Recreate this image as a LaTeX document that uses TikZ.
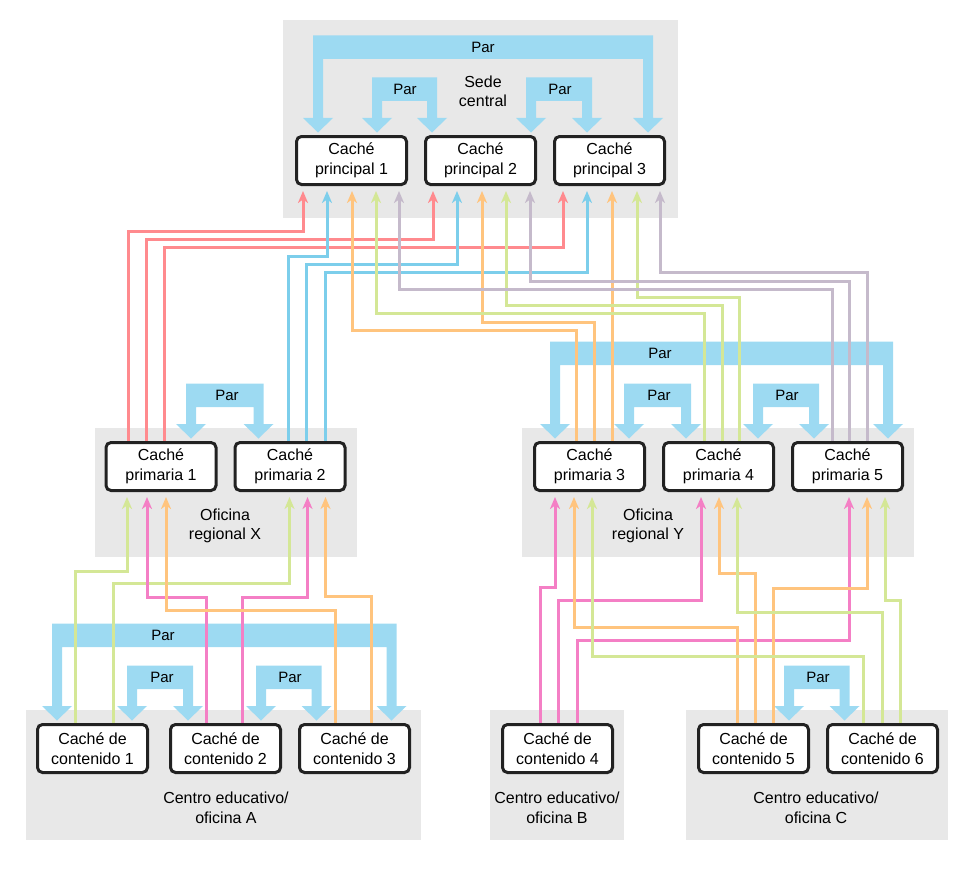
\documentclass[tikz,border=0pt]{standalone}
\usepackage{fontspec}
\setmainfont{Liberation Sans}
\usepackage{xcolor}
\usepackage{tikz}
\usetikzlibrary{calc,backgrounds,positioning,arrows.meta}
\definecolor{Zone}{RGB}{232,232,232}
\definecolor{PeerBlue}{RGB}{157,218,242}
\definecolor{BoxLine}{RGB}{34,34,34}
\definecolor{LinkRed}{RGB}{255,138,142}
\definecolor{LinkBlue}{RGB}{124,206,235}
\definecolor{LinkOrange}{RGB}{255,196,126}
\definecolor{LinkGreen}{RGB}{212,231,150}
\definecolor{LinkPurple}{RGB}{197,186,203}
\definecolor{LinkPink}{RGB}{244,127,197}

%% peer arrow: name, node A, x offset A, node B, x offset B, band height, label offset
\newcommand{\peer}[7]{%
  \fill[peer] let \p1=([xshift=#3pt,yshift=2.5pt]#2.north),
                  \p2=([xshift=#5pt,yshift=2.5pt]#4.north) in
    (\x1-5pt,\y1+#6pt) -- (\x2+5pt,\y1+#6pt) -- (\x2+5pt,\y2+14.5pt) -- (\x2+15pt,\y2+14.5pt)
    -- (\p2) -- (\x2-15pt,\y2+14.5pt) -- (\x2-5pt,\y2+14.5pt) -- (\x2-5pt,\y1+#6pt-23.5pt)
    -- (\x1+5pt,\y1+#6pt-23.5pt) -- (\x1+5pt,\y1+14.5pt) -- (\x1+15pt,\y1+14.5pt) -- (\p1)
    -- (\x1-15pt,\y1+14.5pt) -- (\x1-5pt,\y1+14.5pt) -- cycle
    (\x1+#7pt,\y1+#6pt-11.75pt) node[peerlabel] (#1) {Par};}
%% link: colour, source, x offset, level, target, x offset
\newcommand{\link}[6]{%
  \draw[link,#1] let \p1=([xshift=#3pt]#2.north), \p2=([xshift=#6pt,yshift=-5pt]#5.south) in
    (\p1) -- (\x1,-#4pt) -- (\x2,-#4pt) -- (\p2);}

\begin{document}
\begin{tikzpicture}[x=1pt, y=1pt, text=black,
    every node/.style={font=\fontsize{16pt}{19.5pt}\selectfont},
    cache/.style={rectangle, rounded corners=5pt, draw=BoxLine, line width=3pt, fill=white,
                  minimum width=110pt, minimum height=48pt, inner sep=0pt, align=center},
    zone/.style={fill=Zone},
    zonelabel/.style={align=center},
    peer/.style={fill=PeerBlue},
    peerlabel/.style={font=\fontsize{15pt}{18pt}\selectfont},
    link/.style={line width=3pt, -{Stealth[length=12pt,width=10pt,inset=3.5pt]}}]
  \useasboundingbox (0,0) rectangle (971,-872);

  %% Principal caches
  \node [cache] (princ1) at (351.5,-160.5) {Caché\\principal 1};
  \node [cache,right=16pt of princ1] (princ2) {Caché\\principal 2};
  \node [cache,right=16pt of princ2] (princ3) {Caché\\principal 3};

  %% Primaria caches
  \node [cache] (prim1) at (161,-466.5) {Caché\\primaria 1};
  \node [cache,right=16pt of prim1] (prim2) {Caché\\primaria 2};
  \node [cache] (prim3) at (589.5,-466.5) {Caché\\primaria 3};
  \node [cache,right=16pt of prim3] (prim4) {Caché\\primaria 4};
  \node [cache,right=16pt of prim4] (prim5) {Caché\\primaria 5};

  %% Contenido caches
  \node [cache] (cont1) at (92.5,-748.5) {Caché de\\contenido 1};
  \node [cache,right=20pt of cont1] (cont2) {Caché de\\contenido 2};
  \node [cache,right=16pt of cont2] (cont3) {Caché de\\contenido 3};
  \node [cache] (cont4) at (557.5,-748.5) {Caché de\\contenido 4};
  \node [cache] (cont5) at (753.5,-748.5) {Caché de\\contenido 5};
  \node [cache,right=16pt of cont5] (cont6) {Caché de\\contenido 6};

  %% Site labels
  \node [zonelabel] (hqlabel) at (483,-91.5) {Sede\\central};
  \node [zonelabel] (xlabel) at (225,-526) {Oficina\\regional X};
  \node [zonelabel] (ylabel) at (648,-526) {Oficina\\regional Y};
  \node [zonelabel] (alabel) at (226,-808) {Centro educativo/\\oficina A};
  \node [zonelabel] (blabel) at (557,-808) {Centro educativo/\\oficina B};
  \node [zonelabel] (clabel) at (816,-808) {Centro educativo/\\oficina C};

  \begin{scope}[on background layer]
    %% Sites
    \fill [zone] (283,-20) rectangle (678,-218);
    \fill [zone] (95,-428) rectangle (357,-557);
    \fill [zone] (522,-428) rectangle (914,-557);
    \fill [zone] (26,-710) rectangle (421,-840);
    \fill [zone] (490,-710) rectangle (624,-840);
    \fill [zone] (686,-710) rectangle (948,-840);

    %% Peers
    \peer{hqpar}{princ1}{-33.5}{princ3}{38.5}{97}{165}
    \peer{hqpar12}{princ1}{25.5}{princ2}{-48.5}{55}{28}
    \peer{hqpar23}{princ2}{50.5}{princ3}{-22.5}{55}{29}
    \peer{xpar}{prim1}{30}{prim2}{-31.5}{55}{36}
    \peer{ypar}{prim3}{-34.5}{prim5}{40.5}{97}{105}
    \peer{ypar34}{prim3}{39.5}{prim4}{-32.5}{55}{30}
    \peer{ypar45}{prim4}{39.5}{prim5}{-33.5}{55}{29}
    \peer{apar}{cont1}{-35.5}{cont3}{37}{97}{106}
    \peer{apar12}{cont1}{39.5}{cont2}{-37.5}{55}{30}
    \peer{apar23}{cont2}{35.5}{cont3}{-38}{55}{29}
    \peer{cpar}{cont5}{35.5}{cont6}{-38}{55}{29}

    %% Primaria to principal
    \link{LinkRed}{prim1}{-33}{231}{princ1}{-48.5}
    \link{LinkRed}{prim1}{-15}{239}{princ2}{-47.5}
    \link{LinkRed}{prim1}{3}{247}{princ3}{-46.5}
    \link{LinkBlue}{prim2}{-1.5}{256}{princ1}{-24.5}
    \link{LinkBlue}{prim2}{16.5}{264}{princ2}{-23.5}
    \link{LinkBlue}{prim2}{35.5}{272}{princ3}{-22.5}
    \link{LinkOrange}{prim3}{-13.5}{330}{princ1}{0.5}
    \link{LinkOrange}{prim3}{4.5}{322}{princ2}{1.5}
    \link{LinkOrange}{prim3}{22.5}{322}{princ3}{2.5}
    \link{LinkGreen}{prim4}{-14.5}{313}{princ1}{24.5}
    \link{LinkGreen}{prim4}{3.5}{305}{princ2}{25.5}
    \link{LinkGreen}{prim4}{20.5}{297}{princ3}{27.5}
    \link{LinkPurple}{prim5}{-15.5}{289}{princ1}{47.5}
    \link{LinkPurple}{prim5}{1.5}{281}{princ2}{49.5}
    \link{LinkPurple}{prim5}{19.5}{272}{princ3}{50.5}

    %% Contenido to primaria
    \link{LinkGreen}{cont1}{-17.5}{571}{prim1}{-34}
    \link{LinkGreen}{cont1}{20.5}{583}{prim2}{-0.5}
    \link{LinkPink}{cont2}{-19.5}{597}{prim1}{-14}
    \link{LinkPink}{cont2}{16.5}{597}{prim2}{17.5}
    \link{LinkOrange}{cont3}{-19}{610}{prim1}{5}
    \link{LinkOrange}{cont3}{17}{596}{prim2}{35.5}
    \link{LinkPink}{cont4}{-17.5}{587}{prim3}{-34.5}
    \link{LinkPink}{cont4}{0.5}{600}{prim4}{-17.5}
    \link{LinkPink}{cont4}{19.5}{640}{prim5}{1.5}
    \link{LinkOrange}{cont5}{-16.5}{627}{prim3}{-15.5}
    \link{LinkOrange}{cont5}{1.5}{573}{prim4}{0.5}
    \link{LinkOrange}{cont5}{19.5}{588}{prim5}{19.5}
    \link{LinkGreen}{cont6}{-19}{656}{prim3}{2.5}
    \link{LinkGreen}{cont6}{0}{612}{prim4}{18.5}
    \link{LinkGreen}{cont6}{18}{600}{prim5}{37.5}
  \end{scope}
\end{tikzpicture}
\end{document}
